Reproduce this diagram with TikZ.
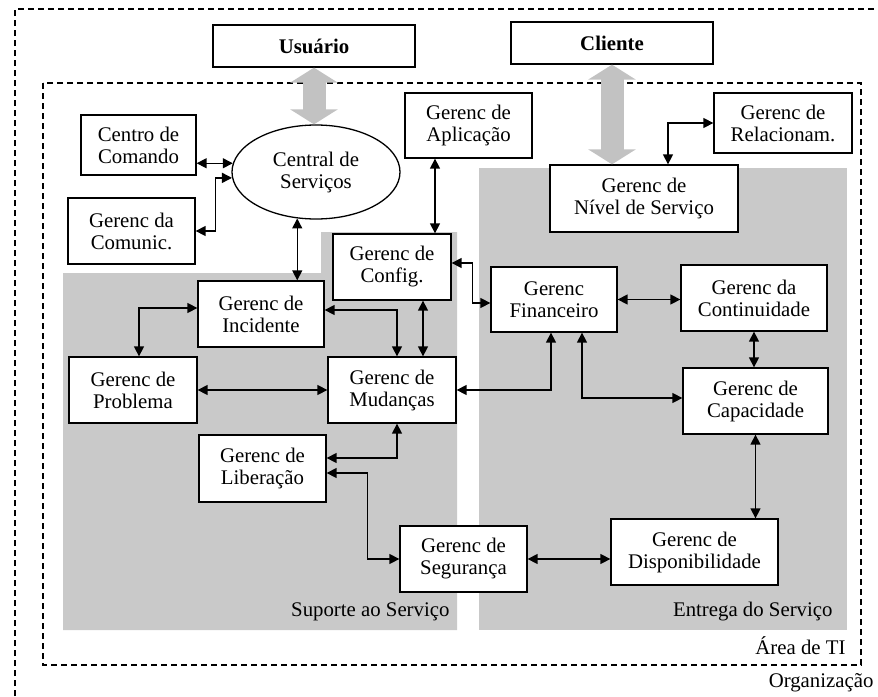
\documentclass[tikz,border=0pt]{standalone}
\usepackage{fontspec}
\setmainfont{Liberation Serif}
\usetikzlibrary{arrows.meta,shapes.geometric}

\begin{document}
\begin{tikzpicture}[x=1pt,y=-1pt,
  font=\fontsize{20.8}{22}\selectfont,
  box/.style={draw, fill=white, align=center, line width=1.3pt, inner sep=1pt},
  link/.style={{Triangle[length=10pt,width=10pt]}-{Triangle[length=10pt,width=10pt]}, line width=1.4pt},
  bigarrow/.style={{Triangle[length=15pt,width=47pt]}-{Triangle[length=15pt,width=47pt]}, line width=23pt, draw=black!24},
  area/.style={fill=black!21},
  fence/.style={dash pattern=on 6pt off 4pt, line width=1.2pt}]

\useasboundingbox (0,0) rectangle (878,696);

%% dashed frames
\draw[fence] (15,696) -- (15,9) -- (878,9);     %% organizacao
\draw[fence] (43,83) rectangle (861,665);        %% area de TI

%% gray areas
\fill[area] (63,273) -- (321,273) -- (321,232) -- (457,232) -- (457,630) -- (63,630) -- cycle; %% suporte
\fill[area] (479,168) rectangle (847,630);       %% entrega

%% area labels
\node[anchor=east] (suporte) at (453,612) {Suporte ao Serviço};
\node[anchor=east] (entrega) at (836,612) {Entrega do Serviço};
\node[anchor=east] (ti)      at (849,646) {Área de TI};
\node[anchor=east] (org)     at (877,683) {Organização};

%% boxes
\node[box, minimum width=202pt, minimum height=42pt] (usuario) at (314,46)    {\textbf{Usuário}};
\node[box, minimum width=202pt, minimum height=42pt] (cliente) at (612,43)    {\textbf{Cliente}};
\node[box, minimum width=115pt, minimum height=60pt] (centro)  at (138.5,145) {Centro de\\Comando};
\node[box, minimum width=127pt, minimum height=66pt] (comunic) at (131.5,231) {Gerenc da\\Comunic.};
\node[box, ellipse, inner sep=0pt, minimum width=168pt, minimum height=94pt] (central) at (316,172) {Central de\\Serviços};
\node[box, minimum width=127pt, minimum height=65pt] (aplic)   at (468.5,125.5) {Gerenc de\\Aplicação};
\node[box, minimum width=138pt, minimum height=60pt] (relac)   at (783,123)   {Gerenc de\\Relacionam.};
\node[box, minimum width=188pt, minimum height=67pt] (nivel)   at (644,198.5) {Gerenc de\\Nível de Serviço};
\node[box, minimum width=118pt, minimum height=66pt] (config)  at (392,267)   {Gerenc de\\Config.};
\node[box, minimum width=126pt, minimum height=66pt] (incid)   at (261,314)   {Gerenc de\\Incidente};
\node[box, minimum width=128pt, minimum height=66pt] (probl)   at (133,390)   {Gerenc de\\Problema};
\node[box, minimum width=128pt, minimum height=66pt] (mudan)   at (392,390)   {Gerenc de\\Mudanças};
\node[box, minimum width=127pt, minimum height=67pt] (liber)   at (262.5,468.5) {Gerenc de\\Liberação};
\node[box, minimum width=127pt, minimum height=66pt] (segur)   at (463.5,559) {Gerenc de\\Segurança};
\node[box, minimum width=126pt, minimum height=65pt] (financ)  at (554,299.5) {Gerenc\\Financeiro};
\node[box, minimum width=146pt, minimum height=66pt] (contin)  at (754,298)   {Gerenc da\\Continuidade};
\node[box, minimum width=145pt, minimum height=66pt] (capac)   at (755.5,401) {Gerenc de\\Capacidade};
\node[box, minimum width=167pt, minimum height=66pt] (dispon)  at (694.5,552) {Gerenc de\\Disponibilidade};

%% big gray arrows
\draw[bigarrow] (usuario.south) -- (usuario.south |- central.north);
\draw[bigarrow] (cliente.south) -- (cliente.south |- nivel.north);

%% links
\draw[link] (central.174 -| centro.east) -- (central.174);                         %% centro - central
\draw[link] (comunic.east) -- ++(20,0) |- (central.184);                           %% comunic - central
\draw[link] (central.248) -- (central.248 |- incid.north);                         %% central - incid
\draw[link] ([xshift=-33.5pt]aplic.south) -- ([xshift=-33.5pt]aplic.south |- config.north); %% aplic - config
\draw[link] ([xshift=24pt]nivel.north) |- (relac.west);                            %% nivel - relac
\draw[link] ([yshift=4pt]config.east) -- ++(21,0) |- ([yshift=-3.5pt]financ.west); %% config - financ
\draw[link] (financ.east) -- (financ.east -| contin.west);                         %% financ - contin
\draw[link] (contin.south) -- (contin.south |- capac.north);                       %% contin - capac
\draw[link] ([xshift=-3pt]financ.south) |- (mudan.east);                           %% financ - mudan
\draw[link] ([xshift=28pt]financ.south) |- ([yshift=3pt]capac.west);               %% financ - capac
\draw[link] (capac.south) -- (capac.south |- dispon.north);                        %% capac - dispon
\draw[link] ([yshift=6pt]incid.west) -| ([xshift=6pt]probl.north);                 %% incid - probl
\draw[link] ([yshift=4pt]incid.east) -| ([xshift=5pt]mudan.north);                 %% incid - mudan
\draw[link] ([xshift=31pt]config.south) -- ([xshift=31pt]config.south |- mudan.north); %% config - mudan
\draw[link] (probl.east) -- (mudan.west);                                          %% probl - mudan
\draw[link] ([xshift=5pt]mudan.south) |- ([yshift=10.5pt]liber.east);              %% mudan - liber
\draw[link] ([yshift=-4.5pt]liber.east) -- ++(41,0) |- (segur.west);               %% liber - segur
\draw[link] (segur.east) -- (segur.east -| dispon.west);                           %% segur - dispon
\end{tikzpicture}
\end{document}
